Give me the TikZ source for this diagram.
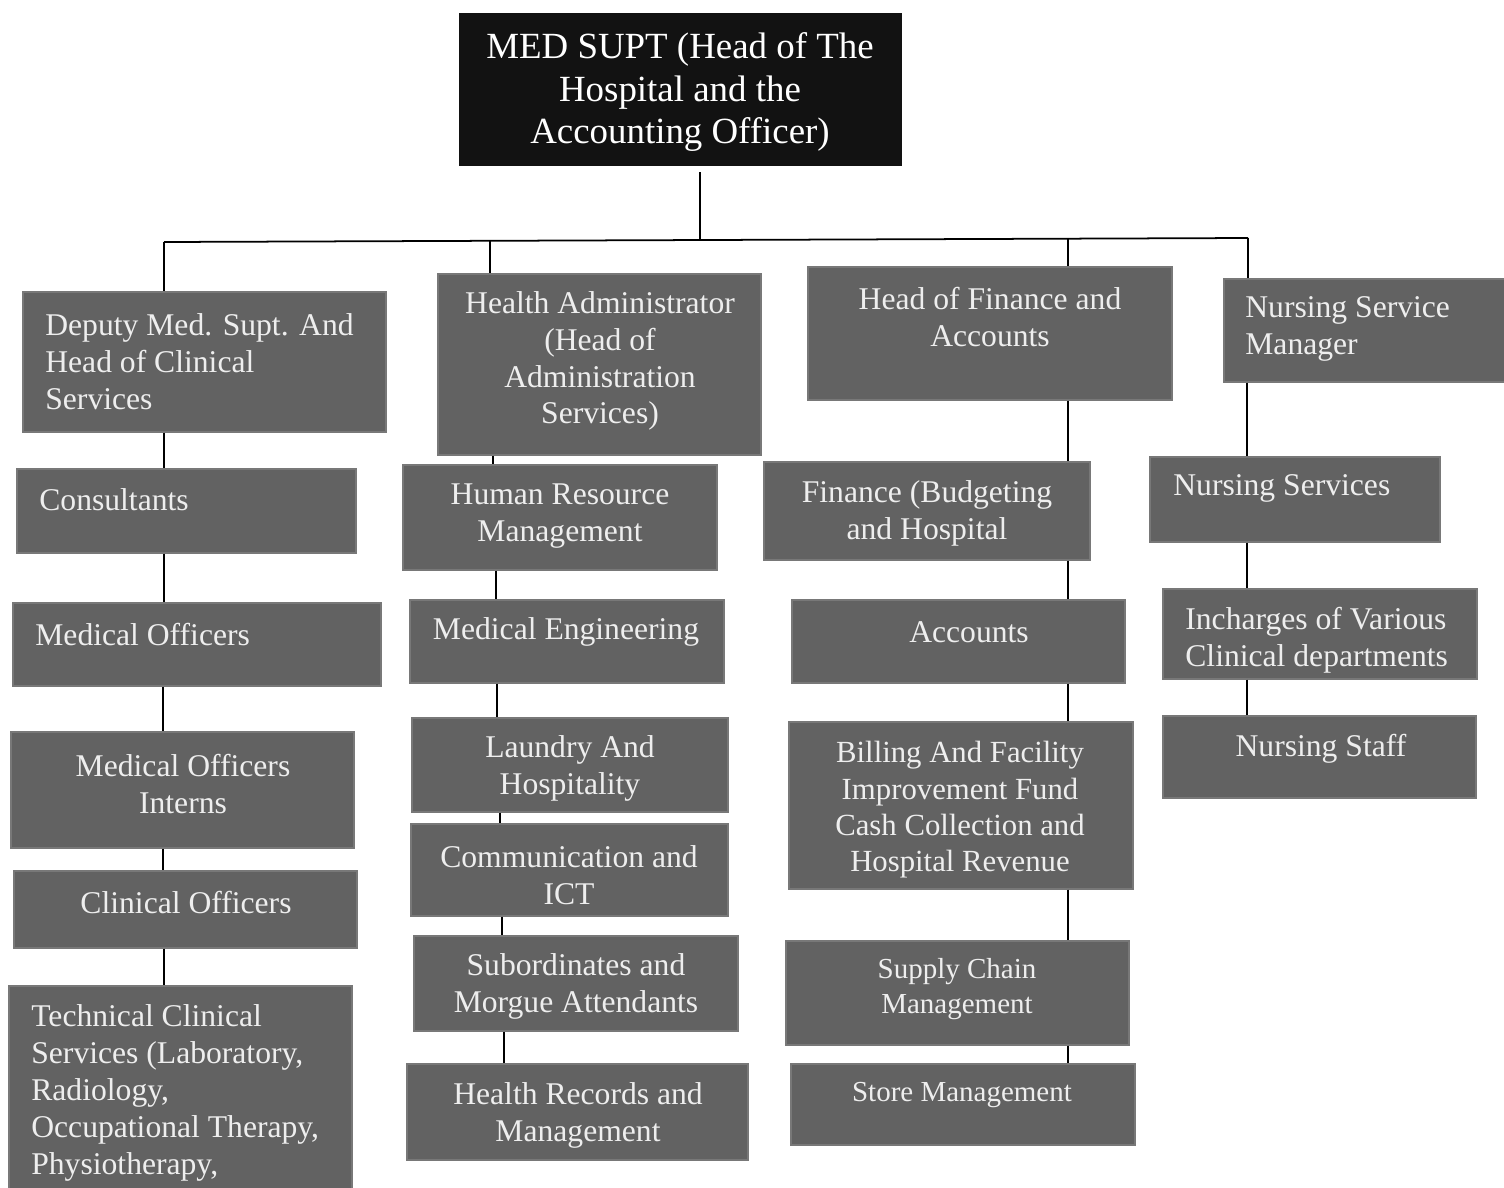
\documentclass[tikz,border=0pt]{standalone}
\usepackage{fontspec}
\setmainfont{Liberation Serif}
\usetikzlibrary{fit}
\definecolor{boxgray}{RGB}{98,98,98}
\definecolor{boxedge}{RGB}{120,120,120}
\definecolor{boxtext}{RGB}{238,238,238}
\definecolor{topfill}{RGB}{18,18,18}
\tikzset{
  box/.style={fill=boxgray, draw=boxedge, line width=0.6pt, inner sep=0pt},
  topbox/.style={fill=topfill, draw=topfill, inner sep=0pt},
  txt/.style={text=boxtext, inner sep=0pt, font=\fontsize{18}{21}\selectfont},
  smalltxt/.style={txt, font=\fontsize{16.5}{19.5}\selectfont},
  toptxt/.style={text=white, inner sep=0pt, font=\fontsize{21}{24.4}\selectfont, align=center},
  conn/.style={draw=black, line width=1pt}
}
\begin{document}
\begin{tikzpicture}[x=0.02cm, y=-0.02cm]
\useasboundingbox (0,0) rectangle (1504,1187);
\clip (0,0) rectangle (1504,1187);
\fill[white] (0,0) rectangle (1504,1187);

% column coordinates on the bus
\coordinate (bl) at (164,242);
\coordinate (bm) at (700,240);
\coordinate (b2) at (490,241);
\coordinate (b3) at (1068,239);
\coordinate (br) at (1248,238);

% top box
\node[topbox, fit={(459,13)(901,165)}] (top) {};
\node[toptxt] (top-t) at (680,92) {MED SUPT (Head of The\\Hospital and the\\Accounting Officer)};

% column 1
\node[box, fit={(23,292)(386,432)}] (dep) {};
\node[txt, align=left, anchor=west] (dep-t) at (45,362) {Deputy Med. Supt. And\\Head of Clinical\\Services};
\node[box, fit={(17,469)(356,553)}] (cons) {};
\node[txt, anchor=west] (cons-t) at (39,500) {Consultants};
\node[box, fit={(13,603)(381,686)}] (mo) {};
\node[txt, anchor=west] (mo-t) at (35,635) {Medical Officers};
\node[box, fit={(11,732)(354,848)}] (moi) {};
\node[txt, align=center] (moi-t) at (183,784) {Medical Officers\\Interns};
\node[box, fit={(14,871)(357,948)}] (co) {};
\node[txt] (co-t) at (186,903) {Clinical Officers};
\node[box, fit={(9,986)(352,1195)}] (tc) {};
\node[txt, align=left, anchor=west] (tc-t) at (31,1093) {Technical Clinical\\Services (Laboratory,\\Radiology,\\Occupational Therapy,\\Physiotherapy,};

% column 2
\node[box, fit={(438,274)(761,455)}] (ha) {};
\node[txt, align=center] (ha-t) at (600,361) {Health Administrator\\(Head of\\Administration\\Services)};
\node[box, fit={(403,465)(717,570)}] (hr) {};
\node[txt, align=center] (hr-t) at (560,516) {Human Resource\\Management};
\node[box, fit={(410,600)(724,683)}] (me) {};
\node[txt] (me-t) at (566,632) {Medical Engineering};
\node[box, fit={(412,718)(728,812)}] (lh) {};
\node[txt, align=center] (lh-t) at (570,768) {Laundry And\\Hospitality};
\node[box, fit={(411,824)(728,916)}] (ci) {};
\node[txt, align=center] (ci-t) at (569,875) {Communication and\\ICT};
\node[box, fit={(414,936)(738,1031)}] (sm) {};
\node[txt, align=center] (sm-t) at (576,986) {Subordinates and\\Morgue Attendants};
\node[box, fit={(407,1064)(748,1160)}] (rec) {};
\node[txt, align=center] (rec-t) at (578,1115) {Health Records and\\Management};

% column 3
\node[box, fit={(808,267)(1172,400)}] (hf) {};
\node[txt, align=center] (hf-t) at (990,317) {Head of Finance and\\Accounts};
\node[box, fit={(764,462)(1090,560)}] (fb) {};
\node[txt, align=center] (fb-t) at (927,513) {Finance (Budgeting\\and Hospital};
\node[box, fit={(792,600)(1125,683)}] (acc) {};
\node[txt] (acc-t) at (969,632) {Accounts};
\node[box, fit={(789,722)(1133,889)}] (bill) {};
\node[txt, align=center, font=\fontsize{17.5}{20.7}\selectfont] (bill-t) at (960,810) {Billing And Facility\\Improvement Fund\\Cash Collection and\\Hospital Revenue};
\node[box, fit={(786,941)(1129,1045)}] (scm) {};
\node[smalltxt, align=center] (scm-t) at (957,989) {Supply Chain\\Management};
\node[box, fit={(791,1064)(1135,1145)}] (st) {};
\node[smalltxt] (st-t) at (962,1095) {Store Management};

% column 4
\node[box, fit={(1224,279)(1510,382)}] (nsm) {};
\node[txt, align=left, anchor=west] (nsm-t) at (1245,329) {Nursing Service\\Manager};
\node[box, fit={(1150,457)(1440,542)}] (ns) {};
\node[txt, anchor=west] (ns-t) at (1173,488) {Nursing Services};
\node[box, fit={(1163,589)(1477,679)}] (inc) {};
\node[txt, align=left, anchor=west] (inc-t) at (1185,640) {Incharges of Various\\Clinical departments};
\node[box, fit={(1163,716)(1476,798)}] (nst) {};
\node[txt] (nst-t) at (1321,749) {Nursing Staff};

% connectors: top and bus
\draw[conn] ([yshift=-4pt]top.south -| bm) -- (bm);
\draw[conn] (bl) -- (br);
\draw[conn] (bl) -- (dep.north -| bl);
\draw[conn] (b2) -- (ha.north -| b2);
\draw[conn] (b3) -- (hf.north -| b3);
\draw[conn] (br) -- (nsm.north -| br);

% column 1 chain
\draw[conn] (dep.south -| 164,0) -- (cons.north -| 164,0);
\draw[conn] (cons.south -| 164,0) -- (mo.north -| 164,0);
\draw[conn] (mo.south -| 163,0) -- (moi.north -| 163,0);
\draw[conn] (moi.south -| 163,0) -- (co.north -| 163,0);
\draw[conn] (co.south -| 164,0) -- (tc.north -| 164,0);

% column 2 chain
\draw[conn] (ha.south -| 493,0) -- (hr.north -| 493,0);
\draw[conn] (hr.south -| 496,0) -- (me.north -| 496,0);
\draw[conn] (me.south -| 497,0) -- (lh.north -| 497,0);
\draw[conn] (lh.south -| 500,0) -- (ci.north -| 500,0);
\draw[conn] (ci.south -| 502,0) -- (sm.north -| 502,0);
\draw[conn] (sm.south -| 504,0) -- (rec.north -| 504,0);

% column 3 chain
\draw[conn] (hf.south -| b3) -- (fb.north -| b3);
\draw[conn] (fb.south -| b3) -- (acc.north -| b3);
\draw[conn] (acc.south -| b3) -- (bill.north -| b3);
\draw[conn] (bill.south -| b3) -- (scm.north -| b3);
\draw[conn] (scm.south -| b3) -- (st.north -| b3);

% column 4 chain
\draw[conn] (nsm.south -| 1247,0) -- (ns.north -| 1247,0);
\draw[conn] (ns.south -| 1247,0) -- (inc.north -| 1247,0);
\draw[conn] (inc.south -| 1247,0) -- (nst.north -| 1247,0);
\end{tikzpicture}
\end{document}
